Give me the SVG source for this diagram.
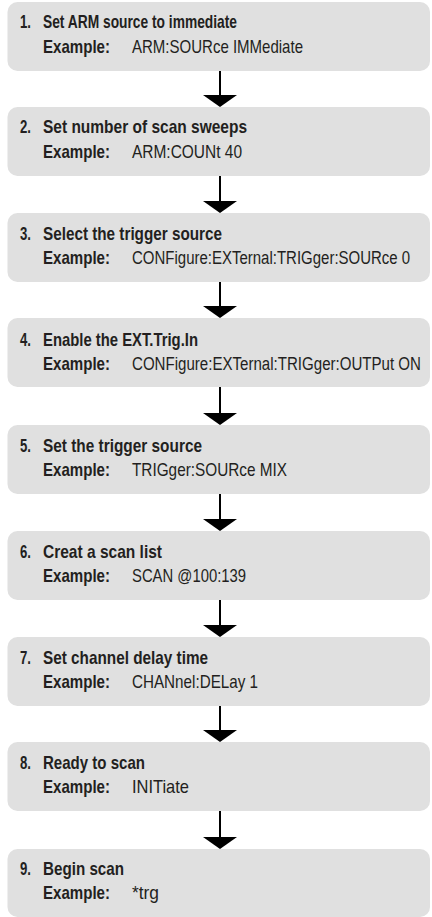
<svg xmlns="http://www.w3.org/2000/svg" width="432" height="917" viewBox="0 0 432 917">
<defs>
<style>
.box{fill:#e0e0e0}
.t{font-family:"Liberation Sans",Arial,sans-serif;font-size:19px;fill:#231f20}
.b{font-weight:bold}
.ln{stroke:#000;stroke-width:2;fill:none}
.hd{fill:#000}
</style>
</defs>
<rect width="432" height="917" fill="#fff"/>
<g id="connectors">
<line class="ln" x1="220" y1="70" x2="220" y2="96"/><polygon class="hd" points="203,95 237,95 220,107"/>
<line class="ln" x1="220" y1="176" x2="220" y2="202"/><polygon class="hd" points="203,201 237,201 220,213"/>
<line class="ln" x1="220" y1="282" x2="220" y2="307"/><polygon class="hd" points="203,306 237,306 220,318"/>
<line class="ln" x1="220" y1="387" x2="220" y2="414"/><polygon class="hd" points="203,413 237,413 220,425"/>
<line class="ln" x1="220" y1="494" x2="220" y2="520"/><polygon class="hd" points="203,519 237,519 220,531"/>
<line class="ln" x1="220" y1="600" x2="220" y2="626"/><polygon class="hd" points="203,625 237,625 220,637"/>
<line class="ln" x1="220" y1="706" x2="220" y2="731"/><polygon class="hd" points="203,730 237,730 220,742"/>
<line class="ln" x1="220" y1="811" x2="220" y2="838"/><polygon class="hd" points="203,837 237,837 220,849"/>
</g>
<g id="step1">
<rect class="box" x="7.5" y="2" width="422.5" height="69" rx="10"/>
<text class="t b" x="20" y="28" textLength="11" lengthAdjust="spacingAndGlyphs">1.</text>
<text class="t b" x="43" y="28" textLength="194" lengthAdjust="spacingAndGlyphs">Set ARM source to immediate</text>
<text class="t b" x="43" y="53" textLength="67" lengthAdjust="spacingAndGlyphs">Example:</text>
<text class="t" x="132" y="53" textLength="171" lengthAdjust="spacingAndGlyphs">ARM:SOURce IMMediate</text>
</g>
<g id="step2">
<rect class="box" x="7.5" y="107" width="422.5" height="69" rx="10"/>
<text class="t b" x="20" y="133" textLength="11" lengthAdjust="spacingAndGlyphs">2.</text>
<text class="t b" x="43" y="133" textLength="204" lengthAdjust="spacingAndGlyphs">Set number of scan sweeps</text>
<text class="t b" x="43" y="158" textLength="67" lengthAdjust="spacingAndGlyphs">Example:</text>
<text class="t" x="132" y="158" textLength="110" lengthAdjust="spacingAndGlyphs">ARM:COUNt 40</text>
</g>
<g id="step3">
<rect class="box" x="7.5" y="213" width="422.5" height="69" rx="10"/>
<text class="t b" x="20" y="240" textLength="11" lengthAdjust="spacingAndGlyphs">3.</text>
<text class="t b" x="43" y="240" textLength="179" lengthAdjust="spacingAndGlyphs">Select the trigger source</text>
<text class="t b" x="43" y="264" textLength="67" lengthAdjust="spacingAndGlyphs">Example:</text>
<text class="t" transform="translate(132,264) scale(0.789,1)" x="0" y="0">CONFigure:EXTernal:TRIGger:SOURce 0</text>
</g>
<g id="step4">
<rect class="box" x="7.5" y="318" width="422.5" height="69" rx="10"/>
<text class="t b" x="20" y="346" textLength="11" lengthAdjust="spacingAndGlyphs">4.</text>
<text class="t b" x="43" y="346" textLength="155" lengthAdjust="spacingAndGlyphs">Enable the EXT.Trig.In</text>
<text class="t b" x="43" y="370" textLength="67" lengthAdjust="spacingAndGlyphs">Example:</text>
<text class="t" transform="translate(132,370) scale(0.794,1)" x="0" y="0">CONFigure:EXTernal:TRIGger:OUTPut ON</text>
</g>
<g id="step5">
<rect class="box" x="7.5" y="425" width="422.5" height="69" rx="10"/>
<text class="t b" x="20" y="452" textLength="11" lengthAdjust="spacingAndGlyphs">5.</text>
<text class="t b" x="43" y="452" textLength="159" lengthAdjust="spacingAndGlyphs">Set the trigger source</text>
<text class="t b" x="43" y="476" textLength="67" lengthAdjust="spacingAndGlyphs">Example:</text>
<text class="t" x="132" y="476" textLength="155" lengthAdjust="spacingAndGlyphs">TRIGger:SOURce MIX</text>
</g>
<g id="step6">
<rect class="box" x="7.5" y="531" width="422.5" height="69" rx="10"/>
<text class="t b" x="20" y="558" textLength="11" lengthAdjust="spacingAndGlyphs">6.</text>
<text class="t b" x="43" y="558" textLength="119" lengthAdjust="spacingAndGlyphs">Creat a scan list</text>
<text class="t b" x="43" y="582" textLength="67" lengthAdjust="spacingAndGlyphs">Example:</text>
<text class="t" x="132" y="582" textLength="114" lengthAdjust="spacingAndGlyphs">SCAN @100:139</text>
</g>
<g id="step7">
<rect class="box" x="7.5" y="637" width="422.5" height="69" rx="10"/>
<text class="t b" x="20" y="664" textLength="11" lengthAdjust="spacingAndGlyphs">7.</text>
<text class="t b" x="43" y="664" textLength="165" lengthAdjust="spacingAndGlyphs">Set channel delay time</text>
<text class="t b" x="43" y="688" textLength="67" lengthAdjust="spacingAndGlyphs">Example:</text>
<text class="t" x="132" y="688" textLength="126" lengthAdjust="spacingAndGlyphs">CHANnel:DELay 1</text>
</g>
<g id="step8">
<rect class="box" x="7.5" y="742" width="422.5" height="69" rx="10"/>
<text class="t b" x="20" y="769" textLength="11" lengthAdjust="spacingAndGlyphs">8.</text>
<text class="t b" x="43" y="769" textLength="102" lengthAdjust="spacingAndGlyphs">Ready to scan</text>
<text class="t b" x="43" y="793" textLength="67" lengthAdjust="spacingAndGlyphs">Example:</text>
<text class="t" x="132" y="793" textLength="57" lengthAdjust="spacingAndGlyphs">INITiate</text>
</g>
<g id="step9">
<rect class="box" x="7.5" y="849" width="422.5" height="68" rx="10"/>
<text class="t b" x="20" y="875" textLength="11" lengthAdjust="spacingAndGlyphs">9.</text>
<text class="t b" x="43" y="875" textLength="81" lengthAdjust="spacingAndGlyphs">Begin scan</text>
<text class="t b" x="43" y="899" textLength="67" lengthAdjust="spacingAndGlyphs">Example:</text>
<text class="t" x="132" y="899" textLength="27" lengthAdjust="spacingAndGlyphs">*trg</text>
</g>
</svg>
